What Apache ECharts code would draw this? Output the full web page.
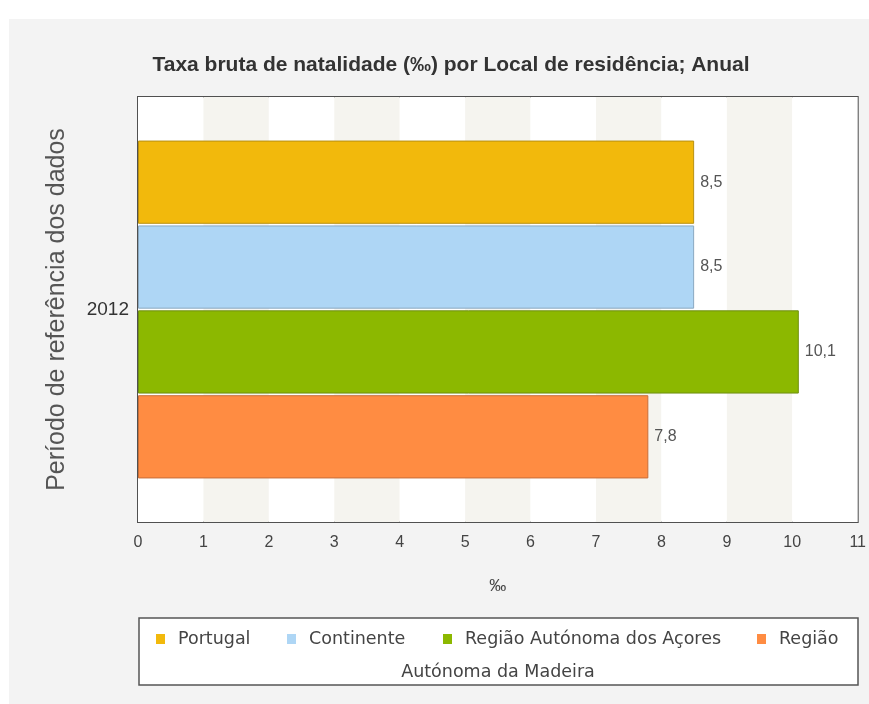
<!DOCTYPE html>
<html>
<head>
<meta charset="utf-8">
<script src="https://cdn.jsdelivr.net/npm/echarts@6/dist/echarts.min.js"></script>
<style>
html,body{margin:0;padding:0;background:#fff;}
#c{width:869px;height:704px;}
</style>
</head>
<body>
<div id="c"></div>
<script>
var titleText = 'Taxa bruta de natalidade (‰) por Local de residência; Anual';
var categories = ['2012'];
var seriesNames = ['Portugal', 'Continente', 'Região Autónoma dos Açores', 'Região Autónoma da Madeira'];
var seriesValues = [[8.5], [8.5], [10.1], [7.8]];
var seriesColors = ['#F2B90C', '#AED6F5', '#8CB800', '#FF8C42'];
var seriesBorders = ['#B89010', '#8AA8C0', '#6E8F10', '#C86E38'];
var xTicks = [0,1,2,3,4,5,6,7,8,9,10,11];
var xAxisName = '‰';
var yAxisName = 'Período de referência dos dados';

var chart = echarts.init(document.getElementById('c'), null, {renderer: 'canvas'});

var legendLefts = [156, 287, 443, 757];
var legends = seriesNames.map(function (n, i) {
  return {
    data: [n],
    left: legendLefts[i],
    top: 630,
    itemWidth: 9,
    itemHeight: 10,
    icon: 'rect',
    itemGap: 0,
    padding: 0,
    selectedMode: false,
    itemStyle: {borderWidth: 0},
    textStyle: {fontFamily: 'DejaVu Sans', fontSize: 17.5, color: '#444', padding: [0, 0, 0, 8]},
    formatter: function (name) { return name === 'Região Autónoma da Madeira' ? 'Região' : name; }
  };
});

var option = {
  backgroundColor: '#ffffff',
  animation: false,
  title: {
    text: titleText,
    left: 446,
    top: 50,
    textAlign: 'center',
    textStyle: {fontFamily: 'Liberation Sans', fontSize: 21, fontWeight: 'bold', color: '#333'}
  },
  graphic: [
    {type: 'rect', z: -10, silent: true, shape: {x: 9, y: 19, width: 860, height: 685}, style: {fill: '#f3f3f3'}},
    {type: 'rect', z: -5, silent: true, shape: {x: 139, y: 618, width: 719, height: 67}, style: {fill: '#ffffff', stroke: '#555', lineWidth: 1.5}},
    {type: 'text', silent: true, x: 498, y: 672,
      style: {text: 'Autónoma da Madeira', fontFamily: 'DejaVu Sans', fontSize: 17.5, fill: '#444',
        textAlign: 'center', textVerticalAlign: 'middle', align: 'center', verticalAlign: 'middle'}}
  ],
  legend: legends,
  grid: {
    left: 138, top: 97, right: 11, bottom: 182,
    show: true, backgroundColor: '#ffffff', borderColor: '#505050', borderWidth: 2,
    containLabel: false
  },
  xAxis: {
    type: 'value', min: 0, max: 11, interval: 1,
    name: xAxisName, nameLocation: 'middle', nameGap: 56,
    nameTextStyle: {fontFamily: 'Liberation Sans', fontSize: 17, color: '#444'},
    axisLine: {show: false}, axisTick: {show: false},
    axisLabel: {fontFamily: 'Liberation Sans', fontSize: 16, color: '#444', margin: 13,
      formatter: function (v) { return xTicks.indexOf(v) >= 0 ? String(v) : ''; }},
    splitLine: {show: false},
    splitArea: {show: true, areaStyle: {color: ['#ffffff', '#f5f4ef']}}
  },
  yAxis: {
    type: 'category', data: categories, inverse: true,
    name: yAxisName, nameLocation: 'middle', nameGap: 68, nameRotate: 90,
    nameTextStyle: {fontFamily: 'Liberation Sans', fontSize: 25, color: '#555'},
    axisLine: {show: false}, axisTick: {show: false},
    axisLabel: {fontFamily: 'Liberation Sans', fontSize: 19, color: '#333', margin: 9}
  },
  series: seriesNames.map(function (n, i) {
    return {
      name: n, type: 'bar', data: seriesValues[i],
      barCategoryGap: '20.5%', barGap: '2%',
      itemStyle: {color: seriesColors[i], borderColor: seriesBorders[i], borderWidth: 1},
      label: {show: true, position: 'right', distance: 6, fontFamily: 'Liberation Sans', fontSize: 16, color: '#555',
        formatter: function (p) { return String(p.value).replace('.', ','); }}
    };
  })
};
chart.setOption(option);
</script>
</body>
</html>
